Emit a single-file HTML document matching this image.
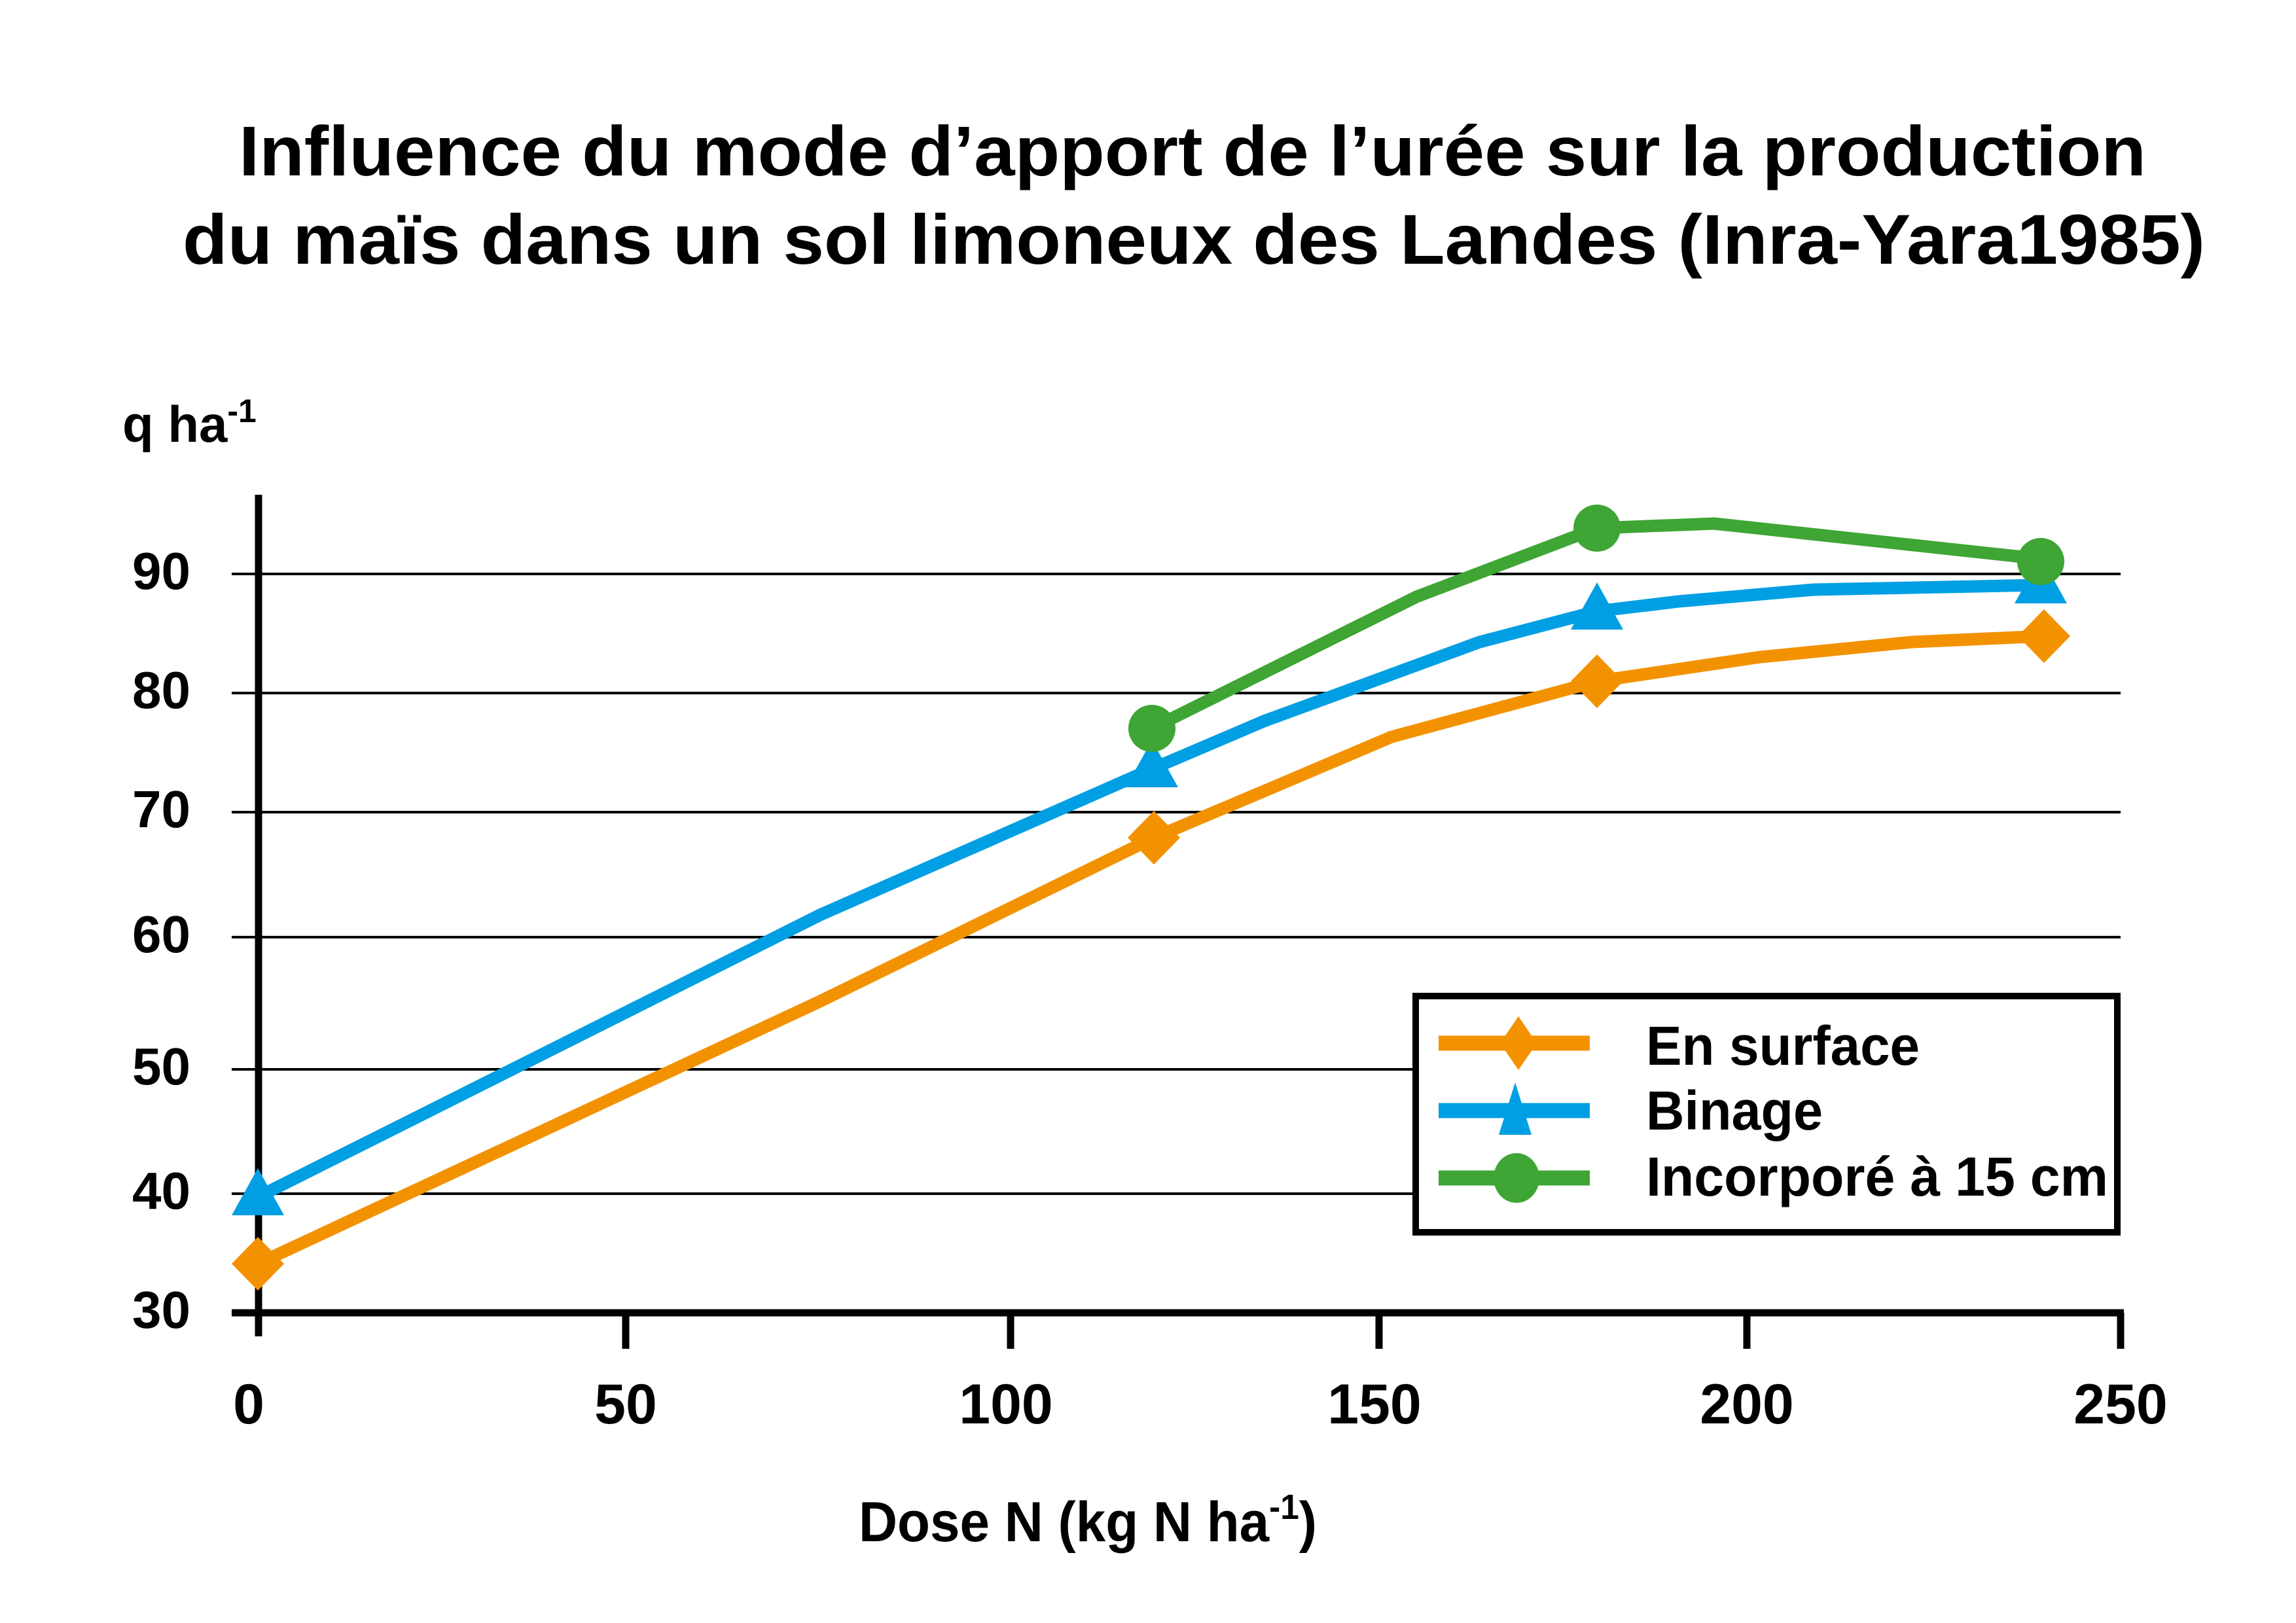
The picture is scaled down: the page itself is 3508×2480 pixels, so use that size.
<!DOCTYPE html>
<html><head><meta charset="utf-8"><style>html,body{margin:0;padding:0;background:#fff}svg{display:block}</style></head>
<body>
<svg width="3508" height="2480" viewBox="0 0 3508 2480" xmlns="http://www.w3.org/2000/svg" font-family="'Liberation Sans', sans-serif" font-weight="bold">
<rect width="3508" height="2480" fill="#fff"/>
<text x="365" y="268" font-size="108" textLength="2914" lengthAdjust="spacingAndGlyphs">Influence du mode d’apport de l’urée sur la production</text>
<text x="279" y="403" font-size="108" textLength="3090" lengthAdjust="spacingAndGlyphs">du maïs dans un sol limoneux des Landes (Inra-Yara1985)</text>
<text x="187" y="675" font-size="78">q ha<tspan font-size="50" dy="-30">-1</tspan></text>
<g stroke="#000" stroke-width="4">
<line x1="354" y1="877" x2="3240" y2="877"/>
<line x1="354" y1="1059" x2="3240" y2="1059"/>
<line x1="354" y1="1241" x2="3240" y2="1241"/>
<line x1="354" y1="1432" x2="3240" y2="1432"/>
<line x1="354" y1="1634" x2="3240" y2="1634"/>
<line x1="354" y1="1824" x2="3240" y2="1824"/>
</g>
<g stroke="#000" stroke-width="11">
<line x1="395" y1="756" x2="395" y2="2042"/>
<line x1="354" y1="2006" x2="3245" y2="2006"/>
<line x1="956" y1="2006" x2="956" y2="2061"/>
<line x1="1544" y1="2006" x2="1544" y2="2061"/>
<line x1="2107" y1="2006" x2="2107" y2="2061"/>
<line x1="2669" y1="2006" x2="2669" y2="2061"/>
<line x1="3240" y1="2006" x2="3240" y2="2061"/>
</g>
<g font-size="80" text-anchor="end">
<text x="291" y="900">90</text><text x="291" y="1082">80</text><text x="291" y="1264">70</text>
<text x="291" y="1455">60</text><text x="291" y="1657">50</text><text x="291" y="1847">40</text><text x="291" y="2029">30</text>
</g>
<g font-size="86" text-anchor="middle">
<text x="380" y="2175">0</text><text x="956" y="2175">50</text><text x="1537" y="2175">100</text>
<text x="2100" y="2175">150</text><text x="2669" y="2175">200</text><text x="3240" y="2175">250</text>
</g>
<text x="1312" y="2355" font-size="86" textLength="700" lengthAdjust="spacingAndGlyphs">Dose N (kg N ha<tspan font-size="54" dy="-34">-1</tspan><tspan dy="34">)</tspan></text>
<g fill="none" stroke-width="19" stroke-linejoin="miter">
<polyline stroke="#F39200" points="394,1931 1253,1530 1763,1280 1931,1209 2126,1126 2440,1041 2689,1004 2922,981 3123,972"/>
<polyline stroke="#009FE3" points="394,1829 1253,1398 1760,1175 1931,1102 2261,981 2440,934 2565,919 2771,901 3118,894"/>
<polyline stroke="#3FA535" points="1760,1113 2164,912 2440,807 2619,800 3118,854"/>
</g>
<g fill="#F39200">
<polygon points="394,1890 434,1931 394,1972 354,1931"/>
<polygon points="1763,1239 1803,1280 1763,1321 1723,1280"/>
<polygon points="2440,1000 2480,1041 2440,1082 2400,1041"/>
<polygon points="3123,931 3163,972 3123,1013 3083,972"/>
</g>
<g fill="#009FE3">
<polygon points="394,1785 434,1857 354,1857"/>
<polygon points="1760,1131 1800,1203 1720,1203"/>
<polygon points="2440,890 2480,962 2400,962"/>
<polygon points="3118,850 3158,922 3078,922"/>
</g>
<g fill="#3FA535">
<circle cx="1760" cy="1113" r="36"/><circle cx="2440" cy="807" r="36"/><circle cx="3118" cy="858" r="36"/>
</g>
<rect x="2163" y="1522" width="1072" height="361" fill="#fff" stroke="#000" stroke-width="10"/>
<g stroke-width="23">
<line x1="2198" y1="1594" x2="2429" y2="1594" stroke="#F39200"/>
<line x1="2198" y1="1697" x2="2429" y2="1697" stroke="#009FE3"/>
<line x1="2198" y1="1800" x2="2429" y2="1800" stroke="#3FA535"/>
</g>
<polygon points="2320,1553 2348,1594 2320,1635 2292,1594" fill="#F39200"/>
<polygon points="2315,1654 2340,1734 2290,1734" fill="#009FE3"/>
<ellipse cx="2317" cy="1800" rx="35" ry="38" fill="#3FA535"/>
<g font-size="84">
<text x="2515" y="1627" textLength="418" lengthAdjust="spacingAndGlyphs">En surface</text>
<text x="2515" y="1726" textLength="270" lengthAdjust="spacingAndGlyphs">Binage</text>
<text x="2515" y="1827" textLength="706" lengthAdjust="spacingAndGlyphs">Incorporé à 15 cm</text>
</g>
</svg>
</body></html>
